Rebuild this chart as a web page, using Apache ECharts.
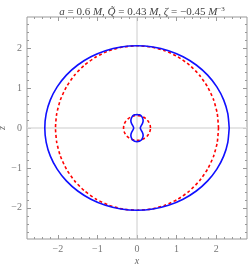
<!DOCTYPE html>
<html><head><meta charset="utf-8">
<script src="https://cdn.jsdelivr.net/npm/echarts@6/dist/echarts.min.js"></script>
<style>html,body{margin:0;padding:0;background:#fff}#c{width:249px;height:267px}</style>
</head><body><div id="c"></div>
<script>
// Tick labels
var majorTicks = [-2, -1, 0, 1, 2];
var minorTicks = [-2.6,-2.4,-2.2,-1.8,-1.6,-1.4,-1.2,-0.8,-0.6,-0.4,-0.2,0.2,0.4,0.6,0.8,1.2,1.4,1.6,1.8,2.2,2.4,2.6];
var axisMin = -2.78, axisMax = 2.78;

// Outer blue surface (x, z)
var blueOuter = [
[2.330,0],[2.295,0.358],[2.190,0.705],[2.018,1.030],[1.785,1.324],[1.498,1.578],[1.165,1.784],[0.797,1.936],[0.404,2.029],[0,2.06],
[-0.404,2.029],[-0.797,1.936],[-1.165,1.784],[-1.498,1.578],[-1.785,1.324],[-2.018,1.030],[-2.190,0.705],[-2.295,0.358],[-2.330,0],
[-2.295,-0.358],[-2.190,-0.705],[-2.018,-1.030],[-1.785,-1.324],[-1.498,-1.578],[-1.165,-1.784],[-0.797,-1.936],[-0.404,-2.029],[0,-2.06],
[0.404,-2.029],[0.797,-1.936],[1.165,-1.784],[1.498,-1.578],[1.785,-1.324],[2.018,-1.030],[2.190,-0.705],[2.295,-0.358],[2.330,0]
];
// Outer red dashed surface
var redOuter = [
[2.06,0],[2.029,0.358],[1.936,0.705],[1.784,1.030],[1.578,1.324],[1.324,1.578],[1.030,1.784],[0.705,1.936],[0.358,2.029],[0,2.06],
[-0.358,2.029],[-0.705,1.936],[-1.030,1.784],[-1.324,1.578],[-1.578,1.324],[-1.784,1.030],[-1.936,0.705],[-2.029,0.358],[-2.06,0],
[-2.029,-0.358],[-1.936,-0.705],[-1.784,-1.030],[-1.578,-1.324],[-1.324,-1.578],[-1.030,-1.784],[-0.705,-1.936],[-0.358,-2.029],[0,-2.06],
[0.358,-2.029],[0.705,-1.936],[1.030,-1.784],[1.324,-1.578],[1.578,-1.324],[1.784,-1.030],[1.936,-0.705],[2.029,-0.358],[2.06,0]
];
// Inner blue peanut
var blueInner = [
[0,0.34],[0.06,0.33],[0.11,0.30],[0.14,0.25],[0.155,0.19],[0.145,0.13],[0.115,0.07],[0.09,0.025],[0.085,0],
[0.09,-0.025],[0.115,-0.07],[0.145,-0.13],[0.155,-0.19],[0.14,-0.25],[0.11,-0.30],[0.06,-0.33],[0,-0.34],
[-0.06,-0.33],[-0.11,-0.30],[-0.14,-0.25],[-0.155,-0.19],[-0.145,-0.13],[-0.115,-0.07],[-0.09,-0.025],[-0.085,0],
[-0.09,0.025],[-0.115,0.07],[-0.145,0.13],[-0.155,0.19],[-0.14,0.25],[-0.11,0.30],[-0.06,0.33],[0,0.34]
];
// Inner red dashed surface
var redInner = [
[0.34,0],[0.335,0.054],[0.319,0.106],[0.294,0.155],[0.260,0.199],[0.219,0.237],[0.170,0.268],[0.116,0.291],[0.059,0.305],[0,0.31],
[-0.059,0.305],[-0.116,0.291],[-0.170,0.268],[-0.219,0.237],[-0.260,0.199],[-0.294,0.155],[-0.319,0.106],[-0.335,0.054],[-0.34,0],
[-0.335,-0.054],[-0.319,-0.106],[-0.294,-0.155],[-0.260,-0.199],[-0.219,-0.237],[-0.170,-0.268],[-0.116,-0.291],[-0.059,-0.305],[0,-0.31],
[0.059,-0.305],[0.116,-0.291],[0.170,-0.268],[0.219,-0.237],[0.260,-0.199],[0.294,-0.155],[0.319,-0.106],[0.335,-0.054],[0.34,0]
];
var zeroH = [[axisMin,0],[axisMax,0]];
var zeroV = [[0,axisMin],[0,axisMax]];

var serif = '"Liberation Serif", "DejaVu Serif", serif';
var frameColor = '#999';
var labelColor = '#777';

function mkAxis(dim, pos, vals, len, labels, name) {
  var a = {
    type: 'value', min: axisMin, max: axisMax, position: pos,
    splitLine: {show: false},
    axisLine: {show: false, onZero: false},
    axisTick: {show: true, inside: true, length: len, customValues: vals, lineStyle: {color: frameColor, width: 1}},
    axisLabel: {show: labels, customValues: vals, color: labelColor, fontFamily: serif, fontSize: 10, margin: 5,
      formatter: function(v){ return v < 0 ? '\u2212' + Math.abs(v) : String(v); }}
  };
  if (name) {
    a.name = name; a.nameLocation = 'middle'; a.nameMoveOverlap = false;
    a.nameTextStyle = {color: '#666', fontFamily: serif, fontStyle: 'italic', fontSize: 10};
    a.nameGap = dim === 'x' ? 17 : 20;
  }
  return a;
}

var chart = echarts.init(document.getElementById('c'), null, {renderer: 'canvas'});
chart.setOption({
  animation: false,
  backgroundColor: '#fff',
  title: {
    text: '{i|a} = 0.6 {i|M}, {i|Q\u0303} = 0.43 {i|M}, {i|\u03b6} = \u22120.45 {i|M}{s|\u22123}',
    left: 137, top: 1, textAlign: 'center',
    textStyle: {
      fontFamily: serif, fontSize: 11, fontWeight: 'normal', color: '#444',
      rich: {
        i: {fontFamily: serif, fontStyle: 'italic', fontSize: 11, color: '#444'},
        s: {fontFamily: serif, fontSize: 7, color: '#444', padding: [0,0,6,0]}
      }
    }
  },
  grid: {left: 27, right: 2, top: 17, bottom: 28, outerBoundsMode: 'none', containLabel: false, show: true, borderColor: frameColor, borderWidth: 1, backgroundColor: 'transparent'},
  xAxis: [
    mkAxis('x','bottom',majorTicks,4,true,'x'),
    mkAxis('x','bottom',minorTicks,2,false),
    mkAxis('x','top',majorTicks,4,false),
    mkAxis('x','top',minorTicks,2,false)
  ],
  yAxis: [
    mkAxis('y','left',majorTicks,4,true,'z'),
    mkAxis('y','left',minorTicks,2,false),
    mkAxis('y','right',majorTicks,4,false),
    mkAxis('y','right',minorTicks,2,false)
  ],
  series: [
    {type:'line', data: zeroH, symbol:'none', lineStyle:{color:'#ddd', width:1.5}, silent:true},
    {type:'line', data: zeroV, symbol:'none', lineStyle:{color:'#ccc', width:1}, silent:true},
    {type:'line', data: redOuter, symbol:'none', smooth: 0.2, lineStyle:{color:'#ff0000', width:1.6, type:[3,2.5]}},
    {type:'line', data: redInner, symbol:'none', smooth: 0.2, lineStyle:{color:'#ff0000', width:1.6, type:[3,2.5]}},
    {type:'line', data: blueOuter, symbol:'none', smooth: 0.2, lineStyle:{color:'#1010ff', width:1.6}},
    {type:'line', data: blueInner, symbol:'none', smooth: 0.3, lineStyle:{color:'#1010ff', width:1.6}}
  ]
});
</script></body></html>
